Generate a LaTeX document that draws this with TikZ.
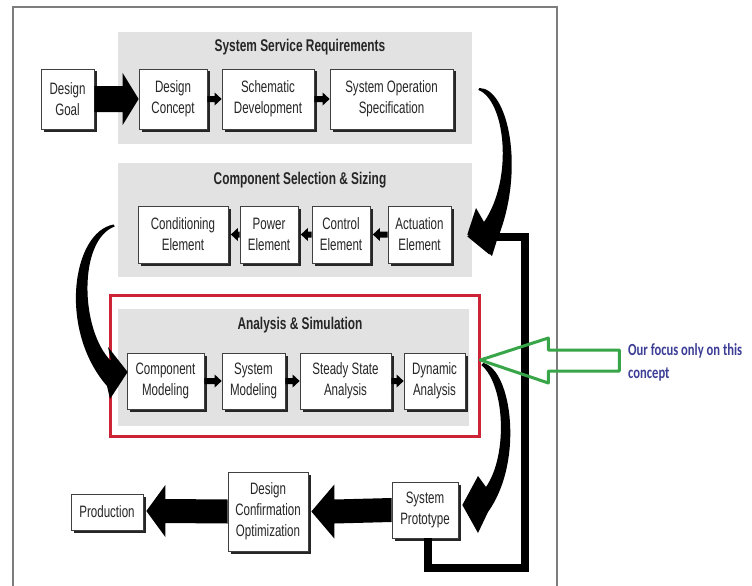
\documentclass[tikz,border=0pt]{standalone}
\usepackage{fontspec}
\setmainfont{Liberation Sans}[FakeStretch=0.7]
\newfontfamily\notefont{Carlito}[FakeStretch=0.74]
\usetikzlibrary{calc,shadows}
\definecolor{panel}{RGB}{226,226,226}
\definecolor{redframe}{RGB}{205,35,55}
\definecolor{greenarrow}{RGB}{56,166,72}
\definecolor{notecol}{RGB}{60,62,150}
\definecolor{framegray}{RGB}{125,125,125}
% horizontal block arrow: #1 start, #2 tip, #3 shaft half height, #4 head half height, #5 signed offset of head base from tip
\newcommand\hblockarrow[5]{\fill ($(#1)+(0,-#3)$) -- ($(#2)+(#5,-#3)$) -- ($(#2)+(#5,-#4)$) -- (#2) -- ($(#2)+(#5,#4)$) -- ($(#2)+(#5,#3)$) -- ($(#1)+(0,#3)$) -- cycle;}
\tikzset{
  box/.style={draw=black!75, line width=0.7pt, fill=white, align=center, inner sep=0pt,
    font=\fontsize{16.5}{21}\selectfont, text=black!85,
    drop shadow={shadow xshift=2.5pt, shadow yshift=-2.5pt, fill=black!85, opacity=1}},
  paneltitle/.style={font=\bfseries\fontsize{17}{20}\selectfont, text=black!85, inner sep=0pt},
  note/.style={font=\notefont\bfseries\fontsize{17}{24}\selectfont, text=notecol, inner sep=0pt, anchor=base west},
  fbline/.style={line width=8pt, line join=miter, black},
  curvearrow/.style={fill=black}
}
\begin{document}
\begin{tikzpicture}[x=1pt, y=-1pt]
\useasboundingbox (0,0) rectangle (752,586);
\fill[white] (0,0) rectangle (752,586);
% outer frame
\draw[framegray, line width=1.6pt] (13,586) -- (13,7) -- (557,7) -- (557,586);
% panels
\fill[panel] (118,32) rectangle (472,144);
\fill[panel] (118,163) rectangle (472,277);
\draw[redframe, line width=3pt] (110,295) rectangle (479,436);
\fill[panel] (118,309) rectangle (469,426);
\node[paneltitle] (t1) at (300,47) {System Service Requirements};
\node[paneltitle] (t2) at (300,180) {Component Selection \& Sizing};
\node[paneltitle] (t3) at (300,325) {Analysis \& Simulation};
% row 1
\node[box, minimum width=53pt, minimum height=60pt] (goal) at (67.5,99) {Design\\Goal};
\node[box, minimum width=68pt, minimum height=60pt] (concept) at (173,99) {Design\\Concept};
\node[box, minimum width=92pt, minimum height=60pt] (schematic) at (268,99) {Schematic\\Development};
\node[box, minimum width=123pt, minimum height=60pt] (sos) at (391.5,99) {System Operation\\Specification};
% row 2
\node[box, minimum width=90pt, minimum height=57pt] (cond) at (183,234.5) {Conditioning\\Element};
\node[box, minimum width=58pt, minimum height=57pt] (power) at (269,234.5) {Power\\Element};
\node[box, minimum width=58pt, minimum height=57pt] (control) at (341,234.5) {Control\\Element};
\node[box, minimum width=63pt, minimum height=57pt] (act) at (419.5,234.5) {Actuation\\Element};
% row 3
\node[box, minimum width=77pt, minimum height=56pt] (compmod) at (165.5,381) {Component\\Modeling};
\node[box, minimum width=63pt, minimum height=56pt] (sysmod) at (253.5,381) {System\\Modeling};
\node[box, minimum width=91pt, minimum height=56pt] (steady) at (345.5,381) {Steady State\\Analysis};
\node[box, minimum width=61pt, minimum height=56pt] (dynamic) at (434.5,381) {Dynamic\\Analysis};
% row 4
\node[box, minimum width=72pt, minimum height=36pt] (prod) at (107,512) {Production};
\node[box, minimum width=80pt, minimum height=79pt] (dco) at (268,511.5) {Design\\Confirmation\\Optimization};
\node[box, minimum width=66pt, minimum height=56pt] (sp) at (425,510) {System\\Prototype};
% tips that sit just past a shadow
\coordinate (condTip) at ($(cond.east)+(2.5,0)$);
\coordinate (powerTip) at ($(power.east)+(2.5,0)$);
\coordinate (controlTip) at ($(control.east)+(2.5,0)$);
\coordinate (prodTip) at ($(prod.east)+(3,-1)$);
\coordinate (dcoTip) at ($(dco.east)+(3,0)$);
% big block arrows
\hblockarrow{goal.east}{concept.west}{13}{26}{-16}
\hblockarrow{dco.west}{prodTip}{12}{26}{19}
\hblockarrow{sp.west}{dcoTip}{12}{27}{23}
% small arrows
\hblockarrow{concept.east}{schematic.west}{3}{6.5}{-7}
\hblockarrow{schematic.east}{sos.west}{3}{6.5}{-7}
\hblockarrow{power.west}{condTip}{3}{6.5}{7}
\hblockarrow{control.west}{powerTip}{3}{6.5}{7}
\hblockarrow{act.west}{controlTip}{3}{6.5}{7}
\hblockarrow{compmod.east}{sysmod.west}{3}{6.5}{-7}
\hblockarrow{sysmod.east}{steady.west}{3}{6.5}{-7}
\hblockarrow{steady.east}{dynamic.west}{3}{6.5}{-7}
% curved arrow: System Operation Specification -> Actuation Element
\coordinate (c1s) at ($(sos.east)+(26,-11)$);
\coordinate (c1t) at ($(act.east)+(16,0)$);
\fill[curvearrow] (c1s) .. controls (508,88) and (526,170) .. (497,240) -- (492,256) -- (c1t) -- (476,208) -- (484,222) .. controls (514,178) and (505,100) .. ($(c1s)+(-1,2)$) -- cycle;
% curved arrow: Conditioning Element -> Component Modeling
\coordinate (c2s) at ($(cond.west)+(-24,-10)$);
\coordinate (c2t) at ($(compmod.west)+(1,-9)$);
\fill[curvearrow] (c2s) .. controls (72,232) and (58,330) .. (107,386) -- (110,399) -- (c2t) -- (108,347) -- (111,361) .. controls (80,330) and (78,240) .. ($(c2s)+(1,2)$) -- cycle;
% curved arrow: Dynamic Analysis -> System Prototype
\coordinate (c3s) at ($(dynamic.east)+(18,-18)$);
\coordinate (c3t) at ($(sp.east)+(4,-5)$);
\fill[curvearrow] (c3s) .. controls (512,370) and (524,462) .. (488,512) -- (478,533) -- (c3t) -- (478,476) -- (486,487) .. controls (508,455) and (505,385) .. ($(c3s)+(-2,2)$) -- cycle;
% feedback loop: System Prototype -> Actuation Element
\coordinate (fbA) at ($(sp.south)+(3,0)$);
\coordinate (fbT) at ($(act.east)+(16,2)$);
\draw[fbline] (fbA) -- ++(0,30) -- ++(97,0) |- ($(fbT)+(18,0)$);
\fill ($(fbT)+(22,-18)$) -- (fbT) -- ($(fbT)+(22,18)$) -- cycle;
% green outline arrow
\coordinate (gtip) at ($(dynamic.east)+(15,-21)$);
\draw[greenarrow, line width=3pt, line join=round] (gtip) -- ++(68,-22) -- ++(0,12) -- ++(71,0) -- ++(0,21) -- ++(-71,0) -- ++(0,12) -- cycle;
% note
\node[note] (note1) at (628,355) {Our focus only on this};
\node[note] (note2) at (628,378) {concept};
\end{tikzpicture}
\end{document}
